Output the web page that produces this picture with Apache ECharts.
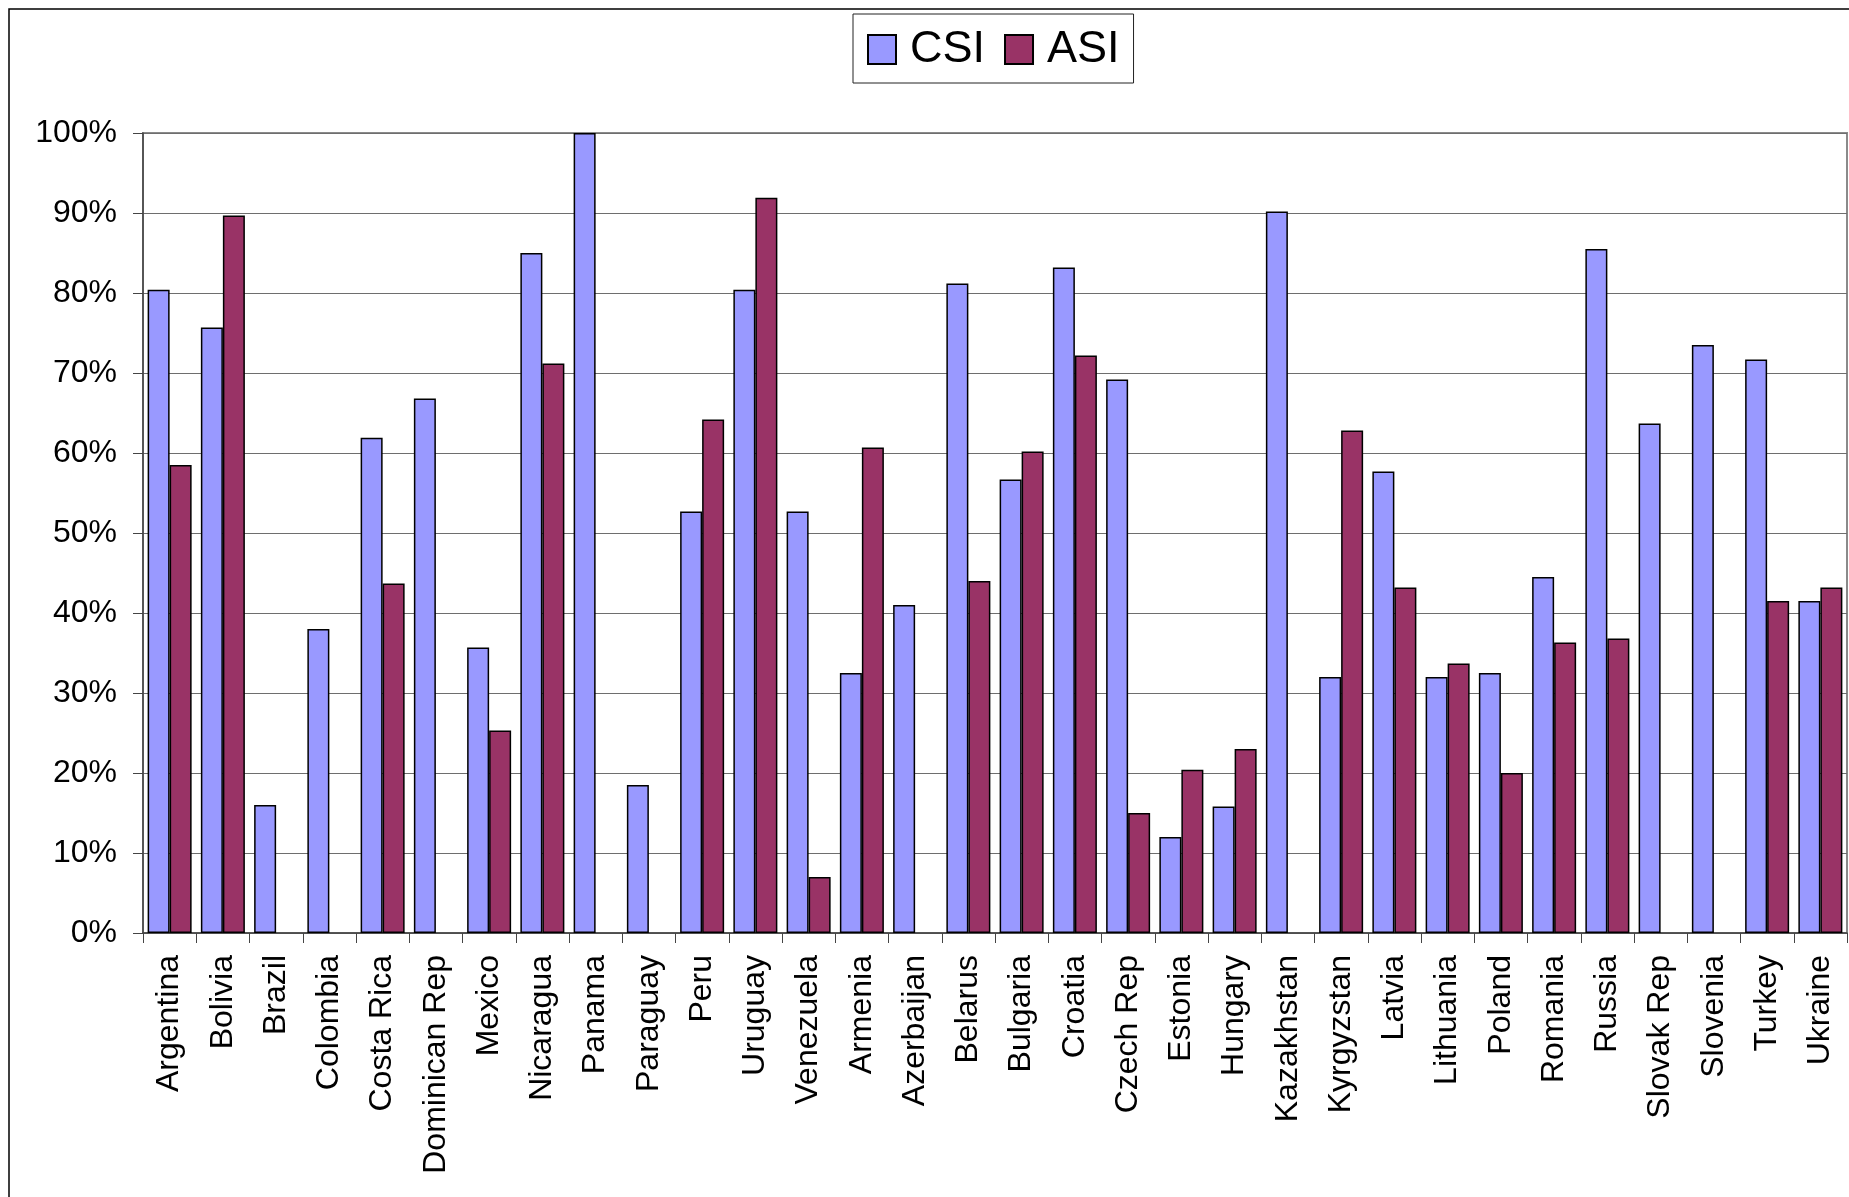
<!DOCTYPE html>
<html>
<head>
<meta charset="utf-8">
<title>CSI and ASI by country</title>
<script src="https://cdn.jsdelivr.net/npm/echarts@6/dist/echarts.min.js"></script>
<style>
  html, body { margin: 0; padding: 0; background: #fff; }
  #chart { width: 1849px; height: 1197px; }
</style>
</head>
<body>
<div id="chart"></div>
<script>
// Countries along the category axis
const countries = [
  'Argentina', 'Bolivia', 'Brazil', 'Colombia', 'Costa Rica', 'Dominican Rep',
  'Mexico', 'Nicaragua', 'Panama', 'Paraguay', 'Peru', 'Uruguay', 'Venezuela',
  'Armenia', 'Azerbaijan', 'Belarus', 'Bulgaria', 'Croatia', 'Czech Rep',
  'Estonia', 'Hungary', 'Kazakhstan', 'Kyrgyzstan', 'Latvia', 'Lithuania',
  'Poland', 'Romania', 'Russia', 'Slovak Rep', 'Slovenia', 'Turkey', 'Ukraine'
];

// CSI share per country, in percent
const csiValues = [
  80.4, 75.7, 16.0, 38.0, 61.9, 66.8,
  35.7, 85.0, 100.0, 18.5, 52.7, 80.4, 52.7,
  32.5, 41.0, 81.2, 56.7, 83.2, 69.2,
  12.0, 15.8, 90.2, 32.0, 57.7, 32.0,
  32.5, 44.5, 85.5, 63.7, 73.5, 71.7, 41.5
];

// ASI share per country, in percent (null where no value is reported)
const asiValues = [
  58.5, 89.7, null, null, 43.7, null,
  25.3, 71.2, null, null, 64.2, 91.9, 7.0,
  60.7, null, 44.0, 60.2, 72.2, 15.0,
  20.4, 23.0, null, 62.8, 43.2, 33.7,
  20.0, 36.3, 36.8, null, null, 41.5, 43.2
];

// Y-axis scale (percent)
const yMin = 0;
const yMax = 100;
const yStep = 10;

const FONT = '"Liberation Sans", Arial, Helvetica, sans-serif';

const chart = echarts.init(document.getElementById('chart'), null, { renderer: 'canvas' });

chart.setOption({
  backgroundColor: '#ffffff',
  animation: false,
  textStyle: { fontFamily: FONT, color: '#000' },
  graphic: [
    {
      // outer chart frame
      type: 'rect',
      silent: true,
      z: -10,
      shape: { x: 9, y: 9, width: 1900, height: 1300 },
      style: { fill: 'none', stroke: '#000', lineWidth: 1.5 }
    }
  ],
  legend: {
    left: 853,
    top: 14,
    orient: 'horizontal',
    padding: [13, 14, 11, 14],
    itemGap: 19,
    itemWidth: 28,
    itemHeight: 29,
    icon: 'rect',
    borderColor: '#222',
    borderWidth: 1,
    backgroundColor: '#fff',
    textStyle: {
      fontFamily: FONT,
      fontSize: 45,
      color: '#000',
      padding: [0, 0, 0, 9]
    },
    data: ['CSI', 'ASI']
  },
  grid: {
    left: 143,
    right: 2,
    top: 133,
    bottom: 264,
    show: true,
    borderColor: '#8a8a8a',
    borderWidth: 2,
    backgroundColor: '#fff'
  },
  xAxis: {
    type: 'category',
    data: countries,
    boundaryGap: true,
    axisLine: { show: true, lineStyle: { color: '#444', width: 1.5 } },
    axisTick: { show: true, length: 10, lineStyle: { color: '#444', width: 1 } },
    axisLabel: {
      rotate: 90,
      interval: 0,
      margin: 22,
      fontFamily: FONT,
      fontSize: 32,
      color: '#000'
    },
    splitLine: { show: false }
  },
  yAxis: {
    type: 'value',
    min: yMin,
    max: yMax,
    interval: yStep,
    axisLine: { show: true, lineStyle: { color: '#444', width: 1.5 } },
    axisTick: { show: true, length: 10, lineStyle: { color: '#444', width: 1 } },
    axisLabel: {
      formatter: '{value}%',
      margin: 26,
      fontFamily: FONT,
      fontSize: 32,
      color: '#000'
    },
    splitLine: { show: true, lineStyle: { color: '#6e6e6e', width: 1 } }
  },
  series: [
    {
      name: 'CSI',
      type: 'bar',
      data: csiValues,
      barWidth: 22,
      barGap: '0%',
      itemStyle: { color: '#9999ff', borderColor: '#000', borderWidth: 1.5 }
    },
    {
      name: 'ASI',
      type: 'bar',
      data: asiValues,
      barWidth: 22,
      barGap: '0%',
      itemStyle: { color: '#993366', borderColor: '#000', borderWidth: 1.5 }
    }
  ]
});
</script>
</body>
</html>
